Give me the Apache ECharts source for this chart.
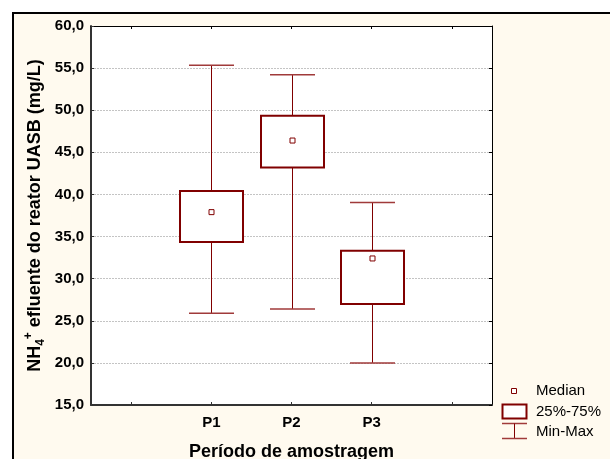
<!DOCTYPE html>
<html>
<head>
<meta charset="utf-8">
<script src="https://cdn.jsdelivr.net/npm/echarts@6/dist/echarts.min.js"></script>
<style>
html,body{margin:0;padding:0;background:#fff;}
#chart{width:610px;height:459px;}
</style>
</head>
<body>
<div id="chart"></div>
<script>
// Data
var categories = ['', 'P1', 'P2', 'P3', ''];
var periods = ['P1', 'P2', 'P3'];
var minValues = [25.9, 26.4, 20.0];
var q1Values = [34.35, 43.2, 27.0];
var medianValues = [37.9, 46.4, 32.4];
var q3Values = [40.4, 49.35, 33.3];
var maxValues = [55.35, 54.2, 39.05];
var yTicks = [15, 20, 25, 30, 35, 40, 45, 50, 55, 60];
var legendLabels = ['Median', '25%-75%', 'Min-Max'];

var FONT = 'Liberation Sans, Arial, sans-serif';
var RED = '#800000';

var boxData = periods.map(function (p, i) {
  return [categories.indexOf(p), minValues[i], q1Values[i], medianValues[i], q3Values[i], maxValues[i]];
});

function renderBox(params, api) {
  var x = api.value(0);
  var pMin = api.coord([x, api.value(1)]);
  var pQ1 = api.coord([x, api.value(2)]);
  var pMed = api.coord([x, api.value(3)]);
  var pQ3 = api.coord([x, api.value(4)]);
  var pMax = api.coord([x, api.value(5)]);
  var cx = Math.round(pMin[0]) + 0.5;
  var boxW = 63, capW = 45, ms = 5;
  return {
    type: 'group',
    children: [
      {type: 'line', shape: {x1: cx, y1: pMax[1], x2: cx, y2: pQ3[1]}, style: {stroke: RED, lineWidth: 1}},
      {type: 'line', shape: {x1: cx, y1: pQ1[1], x2: cx, y2: pMin[1]}, style: {stroke: RED, lineWidth: 1}},
      {type: 'line', shape: {x1: cx - capW / 2, y1: pMax[1], x2: cx + capW / 2, y2: pMax[1]}, style: {stroke: '#a03a3a', lineWidth: 1.5}},
      {type: 'line', shape: {x1: cx - capW / 2, y1: pMin[1], x2: cx + capW / 2, y2: pMin[1]}, style: {stroke: '#a03a3a', lineWidth: 1.5}},
      {type: 'rect', shape: {x: cx - boxW / 2, y: pQ3[1], width: boxW, height: pQ1[1] - pQ3[1]}, style: {fill: '#fff', stroke: RED, lineWidth: 2}},
      {type: 'rect', shape: {x: cx - ms / 2, y: pMed[1] - ms / 2, width: ms, height: ms}, style: {fill: '#fff', stroke: RED, lineWidth: 1}}
    ]
  };
}

var chart = echarts.init(document.getElementById('chart'));
chart.setOption({
  backgroundColor: '#ffffff',
  animation: false,
  textStyle: {fontFamily: FONT},
  graphic: [
    {type: 'rect', z: -10, shape: {x: 13, y: 13, width: 620, height: 470}, style: {fill: '#fffaef', stroke: '#000', lineWidth: 2}},
    // Legend
    {type: 'rect', z: 100, shape: {x: 511.5, y: 388.5, width: 5, height: 5}, style: {fill: '#fff', stroke: RED, lineWidth: 1}},
    {type: 'text', z: 100, x: 536, y: 391, style: {text: legendLabels[0], font: '15px ' + FONT, fill: '#000', verticalAlign: 'middle'}},
    {type: 'rect', z: 100, shape: {x: 502.5, y: 404.5, width: 24, height: 14}, style: {fill: '#fff', stroke: RED, lineWidth: 2}},
    {type: 'text', z: 100, x: 536, y: 412, style: {text: legendLabels[1], font: '15px ' + FONT, fill: '#000', verticalAlign: 'middle'}},
    {type: 'line', z: 100, shape: {x1: 502, y1: 423.5, x2: 527, y2: 423.5}, style: {stroke: '#a03a3a', lineWidth: 1.5}},
    {type: 'line', z: 100, shape: {x1: 514.5, y1: 423.5, x2: 514.5, y2: 438.5}, style: {stroke: RED, lineWidth: 1}},
    {type: 'line', z: 100, shape: {x1: 502, y1: 438.5, x2: 527, y2: 438.5}, style: {stroke: '#a03a3a', lineWidth: 1.5}},
    {type: 'text', z: 100, x: 536, y: 432, style: {text: legendLabels[2], font: '15px ' + FONT, fill: '#000', verticalAlign: 'middle'}}
  ],
  grid: {left: 91, top: 26, width: 401, height: 379, show: true, backgroundColor: '#ffffff', borderWidth: 0, containLabel: false, outerBoundsMode: 'none'},
  xAxis: [
    {
      type: 'category', data: categories, position: 'bottom', boundaryGap: true,
      axisLine: {show: true, lineStyle: {color: '#333', width: 2}},
      axisTick: {show: true, inside: true, length: 3, alignWithLabel: true, lineStyle: {color: '#333'}},
      axisLabel: {show: true, fontFamily: FONT, fontSize: 15, fontWeight: 'bold', color: '#000', margin: 10},
      splitLine: {show: false},
      name: 'Período de amostragem', nameLocation: 'middle', nameGap: 38, nameMoveOverlap: false,
      nameTextStyle: {fontFamily: FONT, fontSize: 18, fontWeight: 'bold', color: '#000'}
    },
    {
      type: 'category', data: categories, position: 'top', boundaryGap: true,
      axisLine: {show: true, lineStyle: {color: '#000', width: 1}},
      axisTick: {show: true, inside: true, length: 3, alignWithLabel: true, lineStyle: {color: '#000'}},
      axisLabel: {show: false}, splitLine: {show: false}
    }
  ],
  yAxis: [
    {
      type: 'value', min: 15, max: 60, interval: 5, position: 'left',
      axisLine: {show: true, lineStyle: {color: '#333', width: 2}},
      axisTick: {show: true, inside: true, length: 3, lineStyle: {color: '#333'}},
      axisLabel: {
        fontFamily: FONT, fontSize: 15, fontWeight: 'bold', color: '#000', margin: 7,
        formatter: function (v) { return yTicks.indexOf(v) >= 0 ? v.toFixed(1).replace('.', ',') : ''; }
      },
      splitLine: {show: true, lineStyle: {color: '#c4c4c4', width: 1, type: [2, 1]}},
      name: '{b|NH}{sub|4}{sup|+}{b| efluente do reator UASB (mg/L)}',
      nameLocation: 'middle', nameGap: 44, nameMoveOverlap: false,
      nameTextStyle: {
        rich: {
          b: {fontFamily: FONT, fontSize: 18, fontWeight: 'bold', color: '#000', lineHeight: 24, verticalAlign: 'middle'},
          sub: {fontFamily: FONT, fontSize: 12, fontWeight: 'bold', color: '#000', lineHeight: 12, verticalAlign: 'bottom'},
          sup: {fontFamily: FONT, fontSize: 12, fontWeight: 'bold', color: '#000', lineHeight: 12, verticalAlign: 'top'}
        }
      }
    },
    {
      type: 'value', min: 15, max: 60, interval: 5, position: 'right',
      axisLine: {show: true, lineStyle: {color: '#000', width: 1}},
      axisTick: {show: true, inside: true, length: 3, lineStyle: {color: '#000'}},
      axisLabel: {show: false}, splitLine: {show: false}
    }
  ],
  series: [{
    type: 'custom',
    xAxisIndex: 0, yAxisIndex: 0,
    renderItem: renderBox,
    encode: {x: 0, y: [1, 2, 3, 4, 5]},
    data: boxData,
    z: 5
  }]
});
</script>
</body>
</html>
